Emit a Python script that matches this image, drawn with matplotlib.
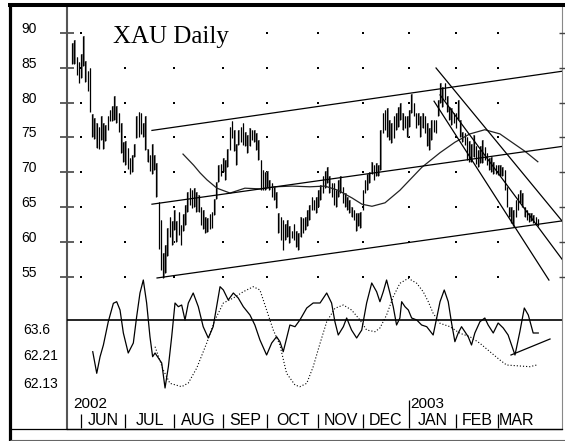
import numpy as np
import matplotlib
matplotlib.use("Agg")
import matplotlib.pyplot as plt
from matplotlib.lines import Line2D

plt.rcParams['font.family'] = ['Liberation Sans', 'DejaVu Sans']

# ---------------- data ----------------
# trading-day index (0 = first trading day of June 2002)
first_day = -4
highs = [88.5, 89.0, 86.6, 85.9, 87.0, 89.5, 86.0, 84.6, 85.0, 78.3,
         77.8, 77.0, 76.5, 78.0, 77.0, 76.8, 78.0, 79.0, 79.5, 81.0,
         79.5, 78.5, 77.0, 74.4, 74.5, 73.5, 72.0, 72.5, 74.1, 78.0,
         78.7, 78.5, 77.0, 78.0, 73.4, 72.5, 74.0, 72.5, 71.3, 65.7,
         63.1, 58.4, 59.5, 62.0, 63.6, 63.0, 64.6, 63.0, 64.3, 62.4,
         64.0, 65.3, 67.2, 67.7, 67.5, 67.7, 67.2, 66.7, 65.0, 64.5,
         63.6, 63.4, 64.0, 64.3, 66.2, 68.6, 71.0, 71.2, 72.0, 71.8,
         73.4, 76.5, 77.3, 76.1, 74.1, 76.1, 76.5, 77.0, 75.8, 75.3,
         76.3, 76.1, 76.1, 75.6, 74.6, 71.8, 70.3, 70.0, 70.1, 68.9,
         68.4, 67.9, 67.2, 64.1, 63.6, 63.1, 62.6, 63.1, 62.2, 61.5,
         62.6, 61.5, 61.2, 63.6, 63.4, 63.6, 64.6, 65.3, 66.5, 66.0,
         66.5, 67.4, 68.2, 69.4, 70.1, 70.8, 69.4, 68.4, 68.4, 67.5,
         68.9, 69.4, 67.9, 67.0, 66.5, 66.0, 65.0, 64.6, 64.1, 64.1,
         64.3, 67.5, 68.9, 69.8, 70.0, 71.5, 71.0, 71.3, 71.0, 76.1,
         78.5, 78.9, 79.2, 77.5, 77.0, 78.0, 78.5, 79.4, 79.9, 78.5,
         78.0, 78.0, 79.0, 81.3, 79.9, 78.5, 78.5, 78.0, 78.5, 78.0,
         77.0, 76.3, 77.5, 77.5, 77.5, 80.4, 82.8, 82.3, 82.8, 80.9,
         79.4, 79.2, 78.5, 78.5, 80.4, 77.5, 75.8, 75.6, 75.1, 74.5,
         74.0, 75.3, 73.7, 73.2, 73.7, 74.6, 73.6, 72.7, 72.0, 72.2,
         71.5, 71.0, 71.0, 71.0, 70.7, 70.3, 67.9, 65.0, 65.0, 64.5,
         66.0, 66.9, 67.4, 67.0, 65.0, 64.5, 64.1, 64.1, 63.9, 63.6,
         63.3]
lows = [85.5, 85.6, 84.0, 82.8, 83.5, 85.2, 83.0, 81.6, 78.6, 75.0,
        74.8, 73.5, 73.4, 74.6, 73.4, 74.5, 76.0, 77.3, 77.3, 77.5,
        77.0, 75.8, 72.7, 71.5, 71.0, 70.5, 69.8, 70.0, 72.2, 74.9,
        75.1, 75.5, 75.0, 73.2, 71.5, 70.1, 69.8, 70.3, 66.4, 59.0,
        56.0, 54.8, 55.5, 58.0, 60.7, 59.5, 61.7, 60.0, 61.0, 59.5,
        61.5, 62.4, 64.3, 65.3, 64.8, 65.0, 64.3, 64.3, 62.4, 61.9,
        61.2, 61.4, 61.9, 62.0, 63.8, 66.2, 68.6, 69.4, 70.0, 68.9,
        70.8, 73.2, 74.9, 73.0, 71.0, 73.9, 74.4, 73.9, 73.7, 72.7,
        73.7, 74.6, 74.4, 73.2, 71.8, 67.4, 67.4, 67.4, 67.9, 67.4,
        66.5, 66.0, 64.8, 61.2, 60.3, 58.8, 60.2, 60.7, 59.8, 60.5,
        60.3, 59.3, 58.8, 60.7, 61.2, 61.7, 62.2, 63.1, 64.6, 64.6,
        64.1, 65.0, 66.0, 67.0, 67.7, 68.4, 67.0, 66.5, 65.3, 65.0,
        66.5, 67.0, 65.5, 65.0, 64.6, 64.1, 63.6, 63.1, 61.5, 62.2,
        62.0, 64.5, 67.0, 67.4, 68.4, 69.8, 68.9, 69.4, 69.4, 70.3,
        75.6, 76.1, 75.1, 74.6, 74.2, 74.9, 76.1, 76.5, 77.5, 76.1,
        76.3, 75.1, 76.5, 78.5, 78.0, 76.3, 76.8, 75.1, 76.3, 75.6,
        73.7, 73.2, 74.6, 75.8, 75.6, 78.0, 79.9, 79.4, 80.4, 78.7,
        77.5, 76.8, 77.0, 76.3, 77.5, 75.1, 74.4, 73.9, 71.8, 71.5,
        71.5, 72.2, 71.2, 70.8, 71.3, 71.3, 71.8, 71.0, 70.3, 70.0,
        69.8, 69.8, 69.6, 69.4, 69.4, 67.4, 65.0, 63.6, 62.7, 62.2,
        63.6, 64.6, 65.5, 65.0, 63.6, 63.1, 62.9, 63.0, 62.7, 62.4,
        62.2]
days = np.arange(first_day, first_day + len(highs))

# moving average (day, price)
ma_days = [46.0, 50.8, 53.7, 56.8, 61.3, 67.2, 73.9, 80.7, 87.5, 95.1, 103.2, 110.0,
           115.9, 122.2, 126.7, 131.2, 137.1, 143.8, 153.7, 161.9, 168.6, 175.4,
           182.1, 188.9, 194.3, 200.2, 206.0]
ma_vals = [72.6, 71.0, 69.9, 68.9, 67.7, 67.0, 67.7, 67.6, 67.9, 68.0, 67.9, 68.0,
           67.4, 66.3, 65.4, 65.1, 65.6, 67.4, 70.7, 72.8, 74.3, 75.5,
           76.1, 75.5, 74.3, 73.0, 71.5]

# trend lines: (day0, price0, day1, price1)
up_channel = [(32.0, 76.0, 216.9, 84.5),
              (32.0, 65.4, 216.9, 73.7),
              (34.3, 54.8, 216.9, 63.0)]
down_channel = [(160.1, 84.97, 216.9, 63.0),
                (161.9, 81.1, 216.9, 57.5),
                (159.2, 80.2, 211.0, 54.5)]

# oscillator (solid) and signal (dotted)
osc_days = [5.3, 7.1, 8.6, 10.1, 12.3, 14.6, 16.1, 17.6, 19.1, 21.3, 23.6, 25.1, 26.6,
            28.1, 29.6, 31.1, 32.3, 33.4, 34.9, 36.4, 37.9, 39.4, 40.9, 42.4, 43.9,
            45.4, 46.9, 48.4, 50.6, 52.9, 55.1, 57.4, 59.6, 62.7, 64.2, 66.4, 68.7,
            70.9, 73.2, 76.2, 78.4, 80.7, 83.7, 86.0, 88.2, 89.7, 91.2, 94.2, 96.5,
            98.7, 101.8, 104.7, 107.8, 110.8, 113.0, 114.5, 116.0, 118.3, 119.8,
            122.0, 124.3, 126.6, 128.8, 131.1, 133.3, 134.8, 136.3, 137.8, 139.3,
            140.8, 142.3, 143.8, 144.6, 146.1, 147.6, 149.1, 151.4, 153.6, 155.9,
            158.8, 160.4, 161.9, 163.8, 165.6, 167.1, 168.6, 170.1, 171.6, 173.1,
            174.6, 176.1, 177.6, 179.9, 182.1, 183.6, 185.9, 188.1, 190.4, 192.6,
            195.7, 197.9, 199.9, 201.7, 203.9, 206.2]
osc_vals = [43.3, 21.7, 38.3, 50, 73.3, 91.7, 93.3, 85, 62, 42, 52, 78.3, 102,
            115, 92, 58.3, 38.3, 42, 37, 32, 7, 28.3, 58.3, 92, 88.3,
            90, 75, 92, 102, 88.3, 68.3, 57, 68.3, 108.3, 105, 95, 102,
            97, 88.3, 80, 70, 55, 40, 52, 58.3, 53.3, 43.3, 70, 68.3,
            75, 87, 92, 92, 102, 92, 73.3, 60, 68.3, 77,
            65, 57, 65, 92, 112, 103.3, 93.3, 103.3, 115, 102,
            88.3, 70, 77, 93.3, 88.3, 85, 77, 75, 70, 68.3,
            60, 77, 93.3, 105, 93.3, 72, 53.3, 62, 68.3, 63.3,
            58.3, 50, 62, 73.3, 77, 70, 62, 72, 67, 60,
            40, 63.3, 87, 80, 62, 62]
sig_days = [33.4, 37.1, 40.1, 45.4, 48.4, 52.2, 56.7, 60.4, 64.2, 68.7, 73.2, 77.7,
            80.7, 83.7, 86.7, 89.7, 92.7, 96.5, 98.7, 101.8, 104.7, 107.8, 110.8,
            114.5, 118.3, 122.0, 125.8, 128.8, 132.6, 134.8, 137.8, 140.8, 143.8,
            147.6, 151.4, 154.3, 156.6, 158.8, 161.9, 166.4, 170.9, 175.4, 179.9,
            184.4, 188.9, 191.9, 197.9, 202.4, 205.5]
sig_vals = [48.3, 25, 11.7, 8.3, 12, 27, 52, 75, 92, 97, 103.3, 108.3,
            105, 85, 65, 50, 21.7, 10, 8.3, 11.7, 28.3, 51.7, 73.3,
            86.7, 90, 85, 75, 65, 63.3, 67, 80, 98.3, 111.7,
            116.7, 111.7, 103.3, 93.3, 81.7, 71.7, 68.3, 61.7, 58.3, 51.7,
            43.3, 35, 30, 29, 28.3, 30]
osc_zero = 75
osc_support = (193.9, 40, 211.5, 56)
osc_tick_vals = [67, 40, 13]
osc_tick_labels = ['63.6', '62.21', '62.13']

price_levels = [55, 60, 65, 70, 75, 80, 85, 90]
month_labels = ['JUN', 'JUL', 'AUG', 'SEP', 'OCT', 'NOV', 'DEC', 'JAN', 'FEB', 'MAR']
month_starts = [0, 20, 42, 64, 84, 107, 127, 148, 169, 188]
year_labels = ['2002', '2003']
year_starts = [first_day, 148]

# ---------------- layout ----------------
W, H = 565, 441
fig = plt.figure(figsize=(W / 100, H / 100), dpi=100)
fig.patch.set_facecolor('white')


def fx(px):
    return px / W


def fy(py):
    return 1 - py / H


AX_L, AX_R, AX_T, AX_B = 67, 562, 5, 429
rect = [fx(AX_L), fy(AX_B), fx(AX_R) - fx(AX_L), fy(AX_T) - fy(AX_B)]
ax = fig.add_axes(rect)
XLIM = (-6.31, 216.9)
ax.set_xlim(*XLIM)
ax.set_ylim(33.10, 94.02)

# spines
ax.spines['top'].set_visible(False)
ax.spines['left'].set_color('#555555')
ax.spines['left'].set_linewidth(1.5)
ax.spines['right'].set_color('#888888')
ax.spines['right'].set_linewidth(0.8)
ax.spines['bottom'].set_color('black')
ax.spines['bottom'].set_linewidth(0.9)

ax.set_xticks([])
ax.set_yticks(price_levels)
ax.set_yticklabels([str(v) for v in price_levels])
ax.tick_params(axis='y', direction='inout', length=10, width=1.2, color='#444444',
               pad=28, labelsize=10)
for lab in ax.get_yticklabels():
    lab.set_ha('left')
    lab.set_va('baseline')

axr = ax.twinx()
axr.set_ylim(ax.get_ylim())
axr.set_yticks(price_levels)
axr.set_yticklabels([])
axr.tick_params(axis='y', direction='inout', length=5, width=1.0, color='#444444')
for s in axr.spines.values():
    s.set_visible(False)

# grid dots
gx, gy = np.meshgrid(month_starts, price_levels)
ax.plot(gx.ravel(), gy.ravel(), ls='none', marker='s', ms=1.7, mew=0, color='black', zorder=1)

# price bars
ax.bar(days + 0.35, np.array(highs) - np.array(lows), bottom=lows, width=0.75,
       color='#8c8c8c', edgecolor='none', zorder=2)
ax.vlines(days, lows, highs, color='black', lw=0.9, zorder=3)

# moving average
ax.plot(ma_days, ma_vals, color='#222222', lw=0.9, zorder=4)

# channels
for x0, y0, x1, y1 in up_channel + down_channel:
    ax.plot([x0, x1], [y0, y1], color='black', lw=0.9, zorder=4, clip_on=True)

# month separators & labels
xt = ax.get_xaxis_transform()
short = [s for s in month_starts if s not in year_starts]
tall = [s for s in month_starts if s in year_starts]
ax.vlines(short, 0.002, 0.035, transform=xt, color='black', lw=0.9)
ax.vlines(tall, 0.002, 0.068, transform=xt, color='black', lw=0.9)
month_font = ['Liberation Sans Narrow', 'Liberation Sans']
for i, m in enumerate(month_labels):
    if i + 1 < len(month_starts):
        xc = (month_starts[i] + month_starts[i + 1]) / 2
        ax.text(xc, 0.019, m, transform=xt, ha='center', va='center',
                fontsize=11.5, family=month_font)
    else:
        ax.text(month_starts[i] + 0.6, 0.019, m, transform=xt, ha='left', va='center',
                fontsize=11.5, family=month_font)
for y, s in zip(year_labels, year_starts):
    ax.text(s + 0.5, 0.05, y, transform=xt, ha='left', va='baseline', fontsize=11)

# oscillator axes
axo = fig.add_axes(rect, sharex=ax)
axo.patch.set_visible(False)
for s in axo.spines.values():
    s.set_visible(False)
axo.set_ylim(-34, 390)
axo.set_yticks(osc_tick_vals)
axo.set_yticklabels(osc_tick_labels)
axo.tick_params(axis='y', length=0, pad=31.5, labelsize=10)
axo.tick_params(axis='x', bottom=False, labelbottom=False)
for lab in axo.get_yticklabels():
    lab.set_ha('left')
axo.axhline(osc_zero, color='black', lw=1.2)
axo.plot(osc_days, osc_vals, color='black', lw=0.9)
axo.plot(sig_days, sig_vals, color='black', lw=0.8, ls=(0, (1, 1.8)))
axo.plot(osc_support[0::2], osc_support[1::2], color='black', lw=0.9)
axo.set_xlim(*XLIM)

# title
fig.text(fx(113), fy(43), 'XAU Daily', fontsize=18, family='Liberation Serif',
         ha='left', va='baseline',
         bbox=dict(facecolor='white', edgecolor='none', pad=1.5))

# outer frame
def fline(x0, y0, x1, y1, lw, color):
    fig.add_artist(Line2D([fx(x0), fx(x1)], [fy(y0), fy(y1)], lw=lw, color=color,
                          transform=fig.transFigure, solid_capstyle='butt'))

fline(8, 5, 565, 5, 2.9, 'black')
fline(9.7, 3, 9.7, 441, 2.3, 'black')
fline(10, 429, 562, 429, 0.9, 'black')
fline(10, 440, 565, 440, 0.8, '#666666')

fig.savefig('out.png', dpi=100, facecolor='white')
